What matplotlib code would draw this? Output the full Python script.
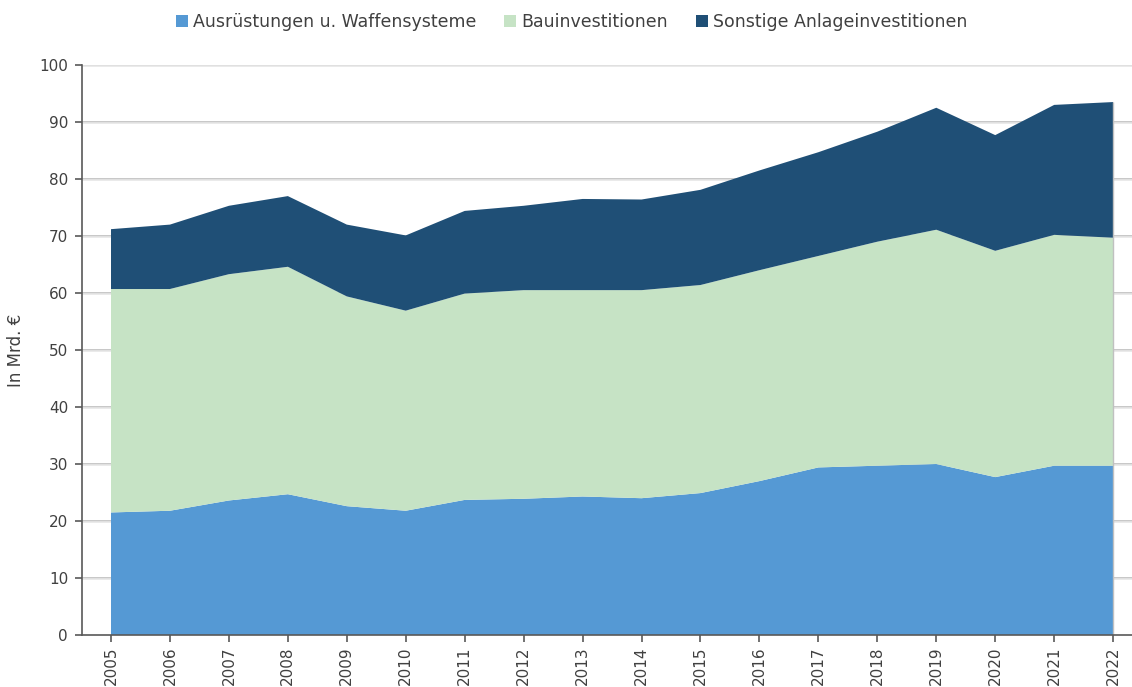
import matplotlib.pyplot as plt
import numpy as np
from matplotlib.patches import Patch

years = list(range(2005, 2023))

# values in Mrd. EUR
ausruestung = [21.5, 21.8, 23.6, 24.7, 22.6, 21.8, 23.7, 23.9, 24.3, 24.0,
               24.9, 27.0, 29.4, 29.7, 30.0, 27.7, 29.7, 29.7]
bau = [39.2, 38.9, 39.7, 39.9, 36.8, 35.1, 36.2, 36.6, 36.2, 36.5,
       36.5, 37.0, 37.1, 39.3, 41.1, 39.7, 40.5, 40.0]
sonstige = [10.5, 11.3, 12.0, 12.4, 12.6, 13.2, 14.5, 14.8, 16.0, 15.9,
            16.7, 17.5, 18.2, 19.3, 21.4, 20.3, 22.8, 23.8]

labels = ['Ausrüstungen u. Waffensysteme', 'Bauinvestitionen', 'Sonstige Anlageinvestitionen']
colors = ['#5599d4', '#c6e3c5', '#1f4f76']
text_color = '#404040'

plt.rcParams['font.family'] = ['DejaVu Sans']

fig = plt.figure(figsize=(11.32, 6.87), dpi=100)
ax = fig.add_axes([82 / 1132, 52 / 687, 1 - 82 / 1132, 570 / 687])

# gridlines with a light shadow underneath
for v in range(10, 101, 10):
    ax.axhline(v, color='#bdbdbd', lw=1.2, zorder=0)
    ax.axhline(v - 0.25, color='#e6e6e6', lw=1.2, zorder=0)

ax.stackplot(years, ausruestung, bau, sonstige, colors=colors, zorder=2, lw=0)
total = np.array(ausruestung) + np.array(bau) + np.array(sonstige)
ax.vlines(years[-1], 0, total[-1], color='#c0c0c0', lw=1, zorder=3)

ax.set_xlim(2004.508, 2022.32)
ax.set_ylim(0, 100)
ax.set_yticks(range(0, 101, 10))
ax.set_xticks(years)
ax.set_xticklabels([str(y) for y in years], rotation=90)

for s in ['top', 'right']:
    ax.spines[s].set_visible(False)
for s in ['left', 'bottom']:
    ax.spines[s].set_color('#595959')
    ax.spines[s].set_linewidth(1.2)
    ax.spines[s].set_zorder(4)

ax.tick_params(axis='both', colors='#595959', labelcolor=text_color,
               labelsize=11, length=5, width=1.2, pad=3)
ax.tick_params(axis='y', pad=5)
ax.set_ylabel('In Mrd. €', fontsize=12, color=text_color, labelpad=10)

handles = [Patch(facecolor=c, edgecolor='none') for c in colors]
fig.legend(handles, labels, loc='center', bbox_to_anchor=(0.505, 1 - 22 / 687),
           ncol=3, frameon=False, fontsize=12.5, handlelength=0.7, handleheight=0.7,
           handletextpad=0.3, columnspacing=1.6, labelcolor=text_color)

fig.savefig('out.png', dpi=100)
